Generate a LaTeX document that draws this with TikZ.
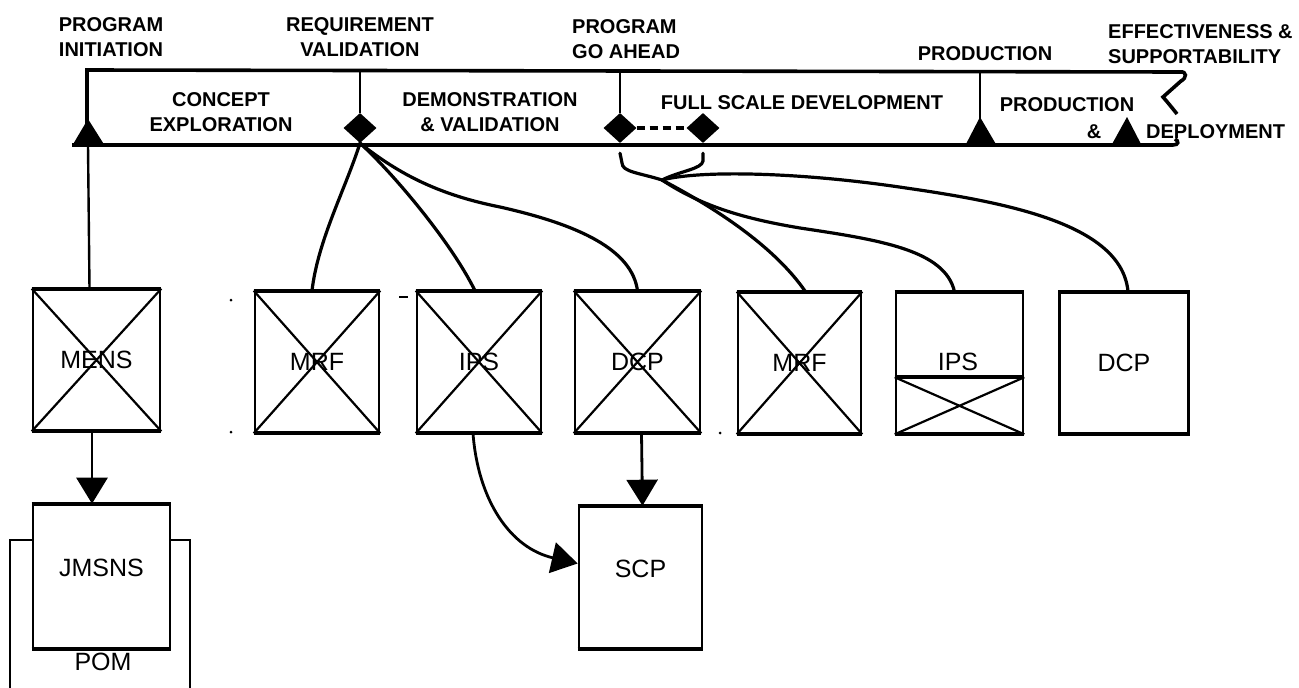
\documentclass[tikz,border=0pt]{standalone}
\usepackage{fontspec}
\setmainfont{Liberation Sans}
\usetikzlibrary{arrows.meta,shapes.geometric,calc}
\begin{document}
\begin{tikzpicture}[x=1pt,y=-1pt,
  band/.style={line width=3.6pt},
  tick/.style={line width=2.4pt},
  mlabel/.style={font=\bfseries\fontsize{20}{25}\selectfont, align=center, inner sep=0pt},
  doc/.style={draw, line width=2.6pt, minimum height=140pt, inner sep=0pt,
              font=\fontsize{25}{29}\selectfont},
  rim/.style={line width=4pt},
  cross/.style={line width=2.2pt},
  link/.style={line width=3.2pt, line cap=round},
  feed/.style={line width=2.8pt, -{Triangle[length=26pt,width=31pt]}},
  gate/.style={diamond, fill, minimum width=33pt, minimum height=30pt, inner sep=0pt},
  speck/.style={fill, circle, inner sep=0pt, minimum size=3pt},
]
\useasboundingbox (0,0) rectangle (1299,688);

% ---------------- milestone labels above the time line
\node[mlabel] (lpi)  at (111,37)  {PROGRAM\\INITIATION};
\node[mlabel] (lrv)  at (360,37)  {REQUIREMENT\\VALIDATION};
\node[mlabel, align=left, anchor=west] (lga) at (572,39) {PROGRAM\\GO AHEAD};
\node[mlabel] (lpr)  at (985,54)  {PRODUCTION};
\node[mlabel, align=left, anchor=west] (les) at (1108,44) {EFFECTIVENESS \&\\SUPPORTABILITY};

% ---------------- the time line band
\draw[band] (87,145) -- (87,70) -- (1180,72)
  .. controls (1187,71) and (1187,78) .. (1181,81) -- (1163,97)
  .. controls (1169,104) .. (1177,114);
\draw[band] (72,145) -- (1173,145) .. controls (1179,145) and (1179,141) .. (1175,139);

% milestone markers
\fill (72,146) -- (88,119) -- (105,146) -- cycle;
\coordinate (pi) at (88,145);
\node[gate] (rv) at (360,128) {};
\node[gate] (fa) at (620,128) {};
\node[gate] (fb) at (703,128) {};
\fill (965,146) -- (980,117) -- (997,146) -- cycle;
\fill (1111,146) -- (1127,117) -- (1142,146) -- cycle;

% phase dividers
\draw[tick] (360,70) -- (rv.north);
\draw[tick] (620,71) -- (fa.north);
\draw[tick] (980,72) -- (980,120);
\draw[band, dash pattern=on 8pt off 5pt] (fa.east) -- (fb.west);

% phase names
\node[mlabel] (pce) at (221,112) {CONCEPT\\EXPLORATION};
\node[mlabel] (pdv) at (490,112) {DEMONSTRATION\\\& VALIDATION};
\node[mlabel] (pfs) at (802,103) {FULL SCALE DEVELOPMENT};
\node[mlabel] (ppd) at (1067,105) {PRODUCTION};
\node[mlabel] (pam) at (1094,132) {\&};
\node[mlabel, anchor=west] (pdp) at (1146,132) {DEPLOYMENT};

% ---------------- documents
\node[doc, minimum width=127pt] (mens) at (96.5,360) {MENS};
\node[doc, minimum width=124pt] (mrfa) at (317,362) {MRF};
\node[doc, minimum width=124pt] (ipsa) at (479,362) {IPS};
\node[doc, minimum width=125pt] (dcpa) at (637.5,362) {DCP};
\node[doc, minimum width=123pt] (mrfb) at (799.5,363) {MRF};
\node[doc, minimum width=127pt] (ipsb) at (959.5,363) {};
\node[font=\fontsize{25}{29}\selectfont, inner sep=0pt] (ipsbt) at (958,362) {IPS};
\node[doc, minimum width=129pt] (dcpb) at (1124,363) {DCP};

\node[doc, minimum width=137pt, minimum height=143pt, text depth=18pt] (jmsns) at (101.5,576.5) {JMSNS};
\node[doc, minimum width=123pt, minimum height=141pt, text depth=18pt] (scp) at (640.5,577.5) {SCP};

% heavier top and bottom edges
\foreach \d in {mens,mrfa,ipsa,dcpa,mrfb,ipsb,dcpb,jmsns,scp}
  \draw[rim] (\d.north west) -- (\d.north east) (\d.south west) -- (\d.south east);

% crossed-out documents
\foreach \d in {mens,mrfa,ipsa,dcpa,mrfb}
  \draw[cross] (\d.north west) -- (\d.south east) (\d.north east) -- (\d.south west);
\coordinate (ipsl) at ($(ipsb.south west)!0.4!(ipsb.north west)$);
\coordinate (ipsr) at ($(ipsb.south east)!0.4!(ipsb.north east)$);
\draw[rim] (ipsl) -- (ipsr);
\draw[cross] (ipsl) -- (ipsb.south east) (ipsr) -- (ipsb.south west);

% POM frame around the JMSNS
\draw[line width=2.4pt] (jmsns.north west |- 0,540) -- (10,540) -- (10,690);
\draw[line width=2.4pt] (jmsns.north east |- 0,540) -- (190,540) -- (190,690);
\node[font=\fontsize{25}{29}\selectfont, inner sep=0pt] (pom) at (103,662) {POM};

% ---------------- links from the milestones
\draw[tick] (pi) -- ([xshift=-7pt]mens.north);
\draw[link] (rv.south) .. controls (345,190) and (318,240) .. ([xshift=-5pt]mrfa.north);
\draw[link] (rv.south) .. controls (390,170) and (450,240) .. ([xshift=-4pt]ipsa.north);
\draw[link] (rv.south) .. controls (400,175) and (440,195) .. (500,207)
  .. controls (580,225) and (632,250) .. (dcpa.north);

% brace under the go-ahead gates
\coordinate (fsd) at (662,180);
\draw[link] ([yshift=-10pt]fa.south) -- (622,163) .. controls (622,172) and (640,173) .. (fsd);
\draw[link] ([yshift=-10pt]fb.south) -- (703,161) .. controls (702,169) and (680,171) .. (fsd);
\draw[link] (fsd) .. controls (700,200) and (770,240) .. ([xshift=6pt]mrfb.north);
\draw[link] (fsd) .. controls (700,205) and (740,218) .. (800,228)
  .. controls (880,240) and (945,250) .. ([xshift=-5pt]ipsb.north);
\draw[link] (fsd) .. controls (700,170) and (800,172) .. (906,188)
  .. controls (1010,203) and (1122,225) .. ([xshift=4pt]dcpb.north);

% ---------------- document flow
\draw[feed] ([xshift=-4.5pt]mens.south) -- ([xshift=-9.5pt]jmsns.north);
\draw[feed] ([xshift=4pt]dcpa.south) -- ([xshift=2pt]scp.north);
\draw[feed] ([xshift=-6pt]ipsa.south) .. controls (478,500) and (510,548) .. ([yshift=14pt]scp.west);

% faint marks
\node[speck] (s1) at (231,300) {};
\node[speck] (s2) at (231,432) {};
\node[speck] (s3) at (720,433) {};
\draw[line width=2pt] (399,297) -- (408,297);
\end{tikzpicture}
\end{document}
